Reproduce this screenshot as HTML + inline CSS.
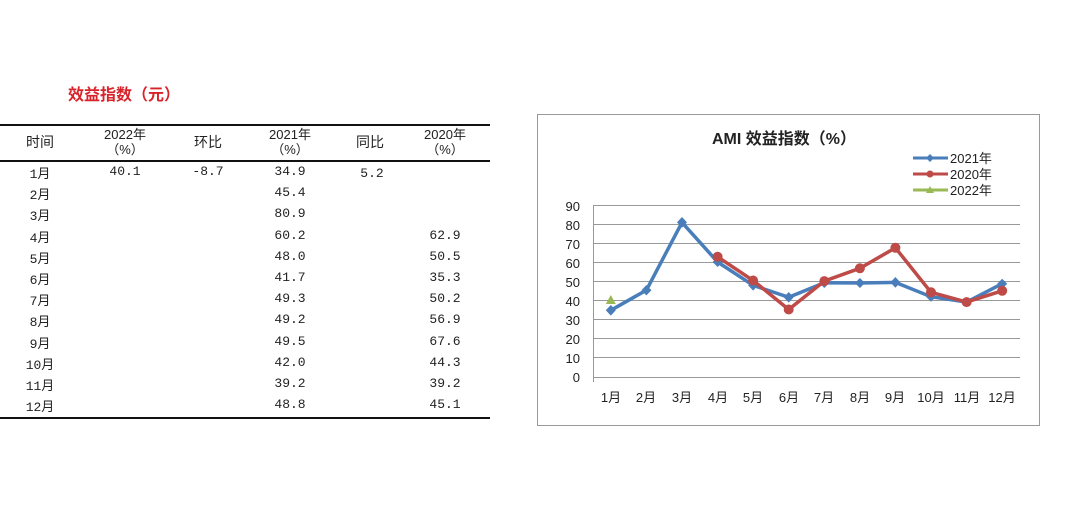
<!DOCTYPE html>
<html><head><meta charset="utf-8"><style>
body{margin:0;width:1080px;height:505px;background:#fff;position:relative;overflow:hidden;font-family:"Liberation Sans","Noto Sans CJK SC",sans-serif}
.t{position:absolute;font-family:"Liberation Mono","Noto Sans CJK SC",monospace;font-size:13px;color:#222;white-space:nowrap;transform:translateX(-50%)}
.h{position:absolute;font-family:"Liberation Sans","Noto Sans CJK SC",sans-serif;font-size:14px;color:#222;transform:translateX(-50%);text-align:center;line-height:15px;white-space:nowrap}
.ln{position:absolute;left:0;width:490px;background:#111}
</style></head><body>
<div style="position:absolute;left:68px;top:81px;color:#d9232a;font-weight:bold;font-size:16px;font-family:'Liberation Sans','Noto Sans CJK SC',sans-serif">效益指数（元）</div>
<div class="ln" style="top:124px;height:2px"></div>
<div class="ln" style="top:160px;height:2px"></div>
<div class="ln" style="top:417px;height:2px"></div>
<div class="h" style="left:40px;top:135px">时间</div>
<div class="h" style="left:125px;top:127px;font-size:13px">2022年<br>（%）</div>
<div class="h" style="left:208px;top:135px">环比</div>
<div class="h" style="left:290px;top:127px;font-size:13px">2021年<br>（%）</div>
<div class="h" style="left:370px;top:135px">同比</div>
<div class="h" style="left:445px;top:127px;font-size:13px">2020年<br>（%）</div>
<div id="rows"></div>
<script>
var m=["1月","2月","3月","4月","5月","6月","7月","8月","9月","10月","11月","12月"];
var a=["34.9","45.4","80.9","60.2","48.0","41.7","49.3","49.2","49.5","42.0","39.2","48.8"];
var b=["","","","62.9","50.5","35.3","50.2","56.9","67.6","44.3","39.2","45.1"];
var h="";
for(var i=0;i<12;i++){var y=164+i*21.2;
h+='<div class="t" style="left:40px;top:'+(y-1)+'px">'+m[i]+'</div>';
h+='<div class="t" style="left:290px;top:'+y+'px">'+a[i]+'</div>';
if(b[i])h+='<div class="t" style="left:445px;top:'+y+'px">'+b[i]+'</div>';}
h+='<div class="t" style="left:125px;top:164px">40.1</div><div class="t" style="left:208px;top:164px">-8.7</div><div class="t" style="left:372px;top:166px">5.2</div>';
document.getElementById("rows").innerHTML=h;
</script>
<svg style="position:absolute;left:0;top:0" width="1080" height="505" font-family="Liberation Sans, Noto Sans CJK SC, sans-serif">
<rect x="537.5" y="114.5" width="502" height="311" fill="#fff" stroke="#999"/>
<text x="784" y="144" text-anchor="middle" font-size="16" font-weight="bold" fill="#222">AMI 效益指数（%）</text>
<g stroke="#999" stroke-width="1">
<line x1="593" y1="205.5" x2="1020" y2="205.5"/><line x1="593" y1="224.5" x2="1020" y2="224.5"/><line x1="593" y1="243.5" x2="1020" y2="243.5"/><line x1="593" y1="262.5" x2="1020" y2="262.5"/><line x1="593" y1="281.5" x2="1020" y2="281.5"/><line x1="593" y1="300.5" x2="1020" y2="300.5"/><line x1="593" y1="319.5" x2="1020" y2="319.5"/><line x1="593" y1="338.5" x2="1020" y2="338.5"/><line x1="593" y1="357.5" x2="1020" y2="357.5"/><line x1="593" y1="377.5" x2="1020" y2="377.5"/>
<line x1="593.5" y1="205" x2="593.5" y2="382"/>
</g>
<g font-size="13" fill="#222" text-anchor="end">
<text x="580" y="211">90</text><text x="580" y="230">80</text><text x="580" y="249">70</text><text x="580" y="268">60</text><text x="580" y="287">50</text><text x="580" y="306">40</text><text x="580" y="325">30</text><text x="580" y="344">20</text><text x="580" y="363">10</text><text x="580" y="382">0</text>
</g>
<g font-size="13" fill="#222" text-anchor="middle">
<text x="611" y="402">1月</text><text x="646" y="402">2月</text><text x="682" y="402">3月</text><text x="718" y="402">4月</text><text x="753" y="402">5月</text><text x="789" y="402">6月</text><text x="824" y="402">7月</text><text x="860" y="402">8月</text><text x="895" y="402">9月</text><text x="931" y="402">10月</text><text x="967" y="402">11月</text><text x="1002" y="402">12月</text>
</g>
<polyline fill="none" stroke="#4a7ebb" stroke-width="3.5" points="610.8,310.3 646.4,290.2 682,222.4 717.6,262 753.1,285.3 788.7,297.3 824.3,282.8 859.9,283 895.4,282.4 931,296.7 966.6,302.1 1002.2,283.7"/>
<g fill="#4a7ebb">
<path d="M610.8,305l5,5.3-5,5.3-5,-5.3z"/><path d="M646.4,285l5,5.2-5,5.2-5,-5.2z"/><path d="M682,217l5,5.4-5,5.4-5,-5.4z"/><path d="M717.6,257l5,5-5,5-5,-5z"/><path d="M753.1,280l5,5.3-5,5.3-5,-5.3z"/><path d="M788.7,292l5,5.3-5,5.3-5,-5.3z"/><path d="M824.3,278l5,5-5,5-5,-5z"/><path d="M859.9,278l5,5-5,5-5,-5z"/><path d="M895.4,277l5,5.4-5,5.4-5,-5.4z"/><path d="M931,291.7l5,5-5,5-5,-5z"/><path d="M966.6,297l5,5-5,5-5,-5z"/><path d="M1002.2,278.7l5,5-5,5-5,-5z"/>
</g>
<polyline fill="none" stroke="#be4b48" stroke-width="3.5" points="717.6,256.8 753.1,280.5 788.7,309.5 824.3,281.1 859.9,268.3 895.4,247.8 931,292.3 966.6,302.1 1002.2,290.8"/>
<g fill="#be4b48">
<circle cx="717.6" cy="256.8" r="5"/><circle cx="753.1" cy="280.5" r="5"/><circle cx="788.7" cy="309.5" r="5"/><circle cx="824.3" cy="281.1" r="5"/><circle cx="859.9" cy="268.3" r="5"/><circle cx="895.4" cy="247.8" r="5"/><circle cx="931" cy="292.3" r="5"/><circle cx="966.6" cy="302.1" r="5"/><circle cx="1002.2" cy="290.8" r="5"/>
</g>
<path d="M610.8,295l5,9h-10z" fill="#98b954"/>
<g font-size="13" fill="#222">
<line x1="913" y1="158" x2="948" y2="158" stroke="#4a7ebb" stroke-width="3"/><path d="M930,154l4,4-4,4-4,-4z" fill="#4a7ebb"/><text x="950" y="163">2021年</text>
<line x1="913" y1="174" x2="948" y2="174" stroke="#be4b48" stroke-width="3"/><circle cx="930" cy="174" r="3.5" fill="#be4b48"/><text x="950" y="179">2020年</text>
<line x1="913" y1="190" x2="948" y2="190" stroke="#98b954" stroke-width="3"/><path d="M930,186l4,7h-8z" fill="#98b954"/><text x="950" y="195">2022年</text>
</g>
</svg>
</body></html>
